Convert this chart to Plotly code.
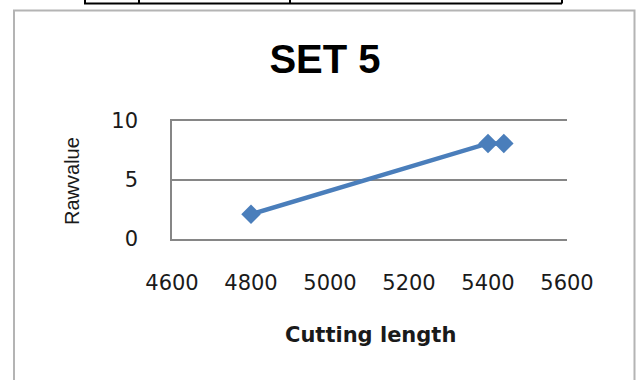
import plotly.graph_objects as go

# Cutting length vs. Ra value, set 5
cutting_length = [4800, 5400, 5440]
ra_value = [2.1, 8.1, 8.1]

x_ticks = [4600, 4800, 5000, 5200, 5400, 5600]
y_ticks = [0, 5, 10]

W, H = 637, 380


def px(x):
    return x / W


def py(y):
    return 1 - y / H


line_blue = "#4a7ebb"
grid_grey = "#868686"

fig = go.Figure()
fig.add_trace(
    go.Scatter(
        x=cutting_length,
        y=ra_value,
        mode="lines+markers",
        line=dict(color=line_blue, width=4.5),
        marker=dict(symbol="diamond", size=15, color=line_blue),
        showlegend=False,
        hoverinfo="x+y",
    )
)

fig.update_layout(
    width=W,
    height=H,
    margin=dict(l=0, r=0, t=0, b=0, autoexpand=False),
    paper_bgcolor="white",
    plot_bgcolor="white",
    title=dict(
        text="<b>SET 5</b>",
        x=px(325),
        xanchor="center",
        y=py(59),
        yanchor="middle",
        automargin=False,
        font=dict(family="Liberation Sans", size=40, color="black"),
    ),
    xaxis=dict(
        domain=[px(172), px(567)],
        range=[4600, 5600],
        tickvals=x_ticks,
        ticktext=[str(v) for v in x_ticks],
        showgrid=False,
        zeroline=False,
        showline=True,
        mirror=True,
        linecolor=grid_grey,
        linewidth=1.5,
        ticks="",
        ticklabelstandoff=24,
        automargin=False,
        tickfont=dict(family="DejaVu Sans", size=21, color="#1a1a1a"),
        fixedrange=True,
    ),
    yaxis=dict(
        domain=[py(239), py(121)],
        range=[0, 10],
        tickvals=y_ticks,
        showgrid=True,
        gridcolor=grid_grey,
        gridwidth=1.5,
        zeroline=False,
        showline=True,
        linecolor=grid_grey,
        linewidth=1.5,
        ticks="",
        ticklabelstandoff=28,
        automargin=False,
        tickfont=dict(family="DejaVu Sans", size=21, color="#1a1a1a"),
        fixedrange=True,
    ),
    annotations=[
        dict(
            text="<b>Cutting length</b>",
            xref="paper", yref="paper",
            x=px(370), y=py(335),
            xanchor="center", yanchor="middle",
            showarrow=False,
            font=dict(family="DejaVu Sans", size=21, color="#1a1a1a"),
        ),
        dict(
            text="Rawvalue",
            xref="paper", yref="paper",
            x=px(72), y=py(181),
            xanchor="center", yanchor="middle",
            textangle=-90,
            showarrow=False,
            font=dict(family="Liberation Sans", size=20, color="#1a1a1a"),
        ),
    ],
    shapes=[
        # chart frame
        dict(type="rect", xref="paper", yref="paper",
             x0=px(14), x1=px(634.5), y0=py(384), y1=py(10.5),
             line=dict(color="#b4b4b4", width=2), fillcolor="rgba(0,0,0,0)"),
        # table rule above the chart
        dict(type="line", xref="paper", yref="paper",
             x0=px(84), x1=px(562), y0=py(3.5), y1=py(3.5),
             line=dict(color="black", width=2)),
    ] + [
        dict(type="line", xref="paper", yref="paper",
             x0=px(xv), x1=px(xv), y0=py(0), y1=py(3.5),
             line=dict(color="black", width=2))
        for xv in (85, 139, 290, 562)
    ],
)

fig.write_html("out.html")
